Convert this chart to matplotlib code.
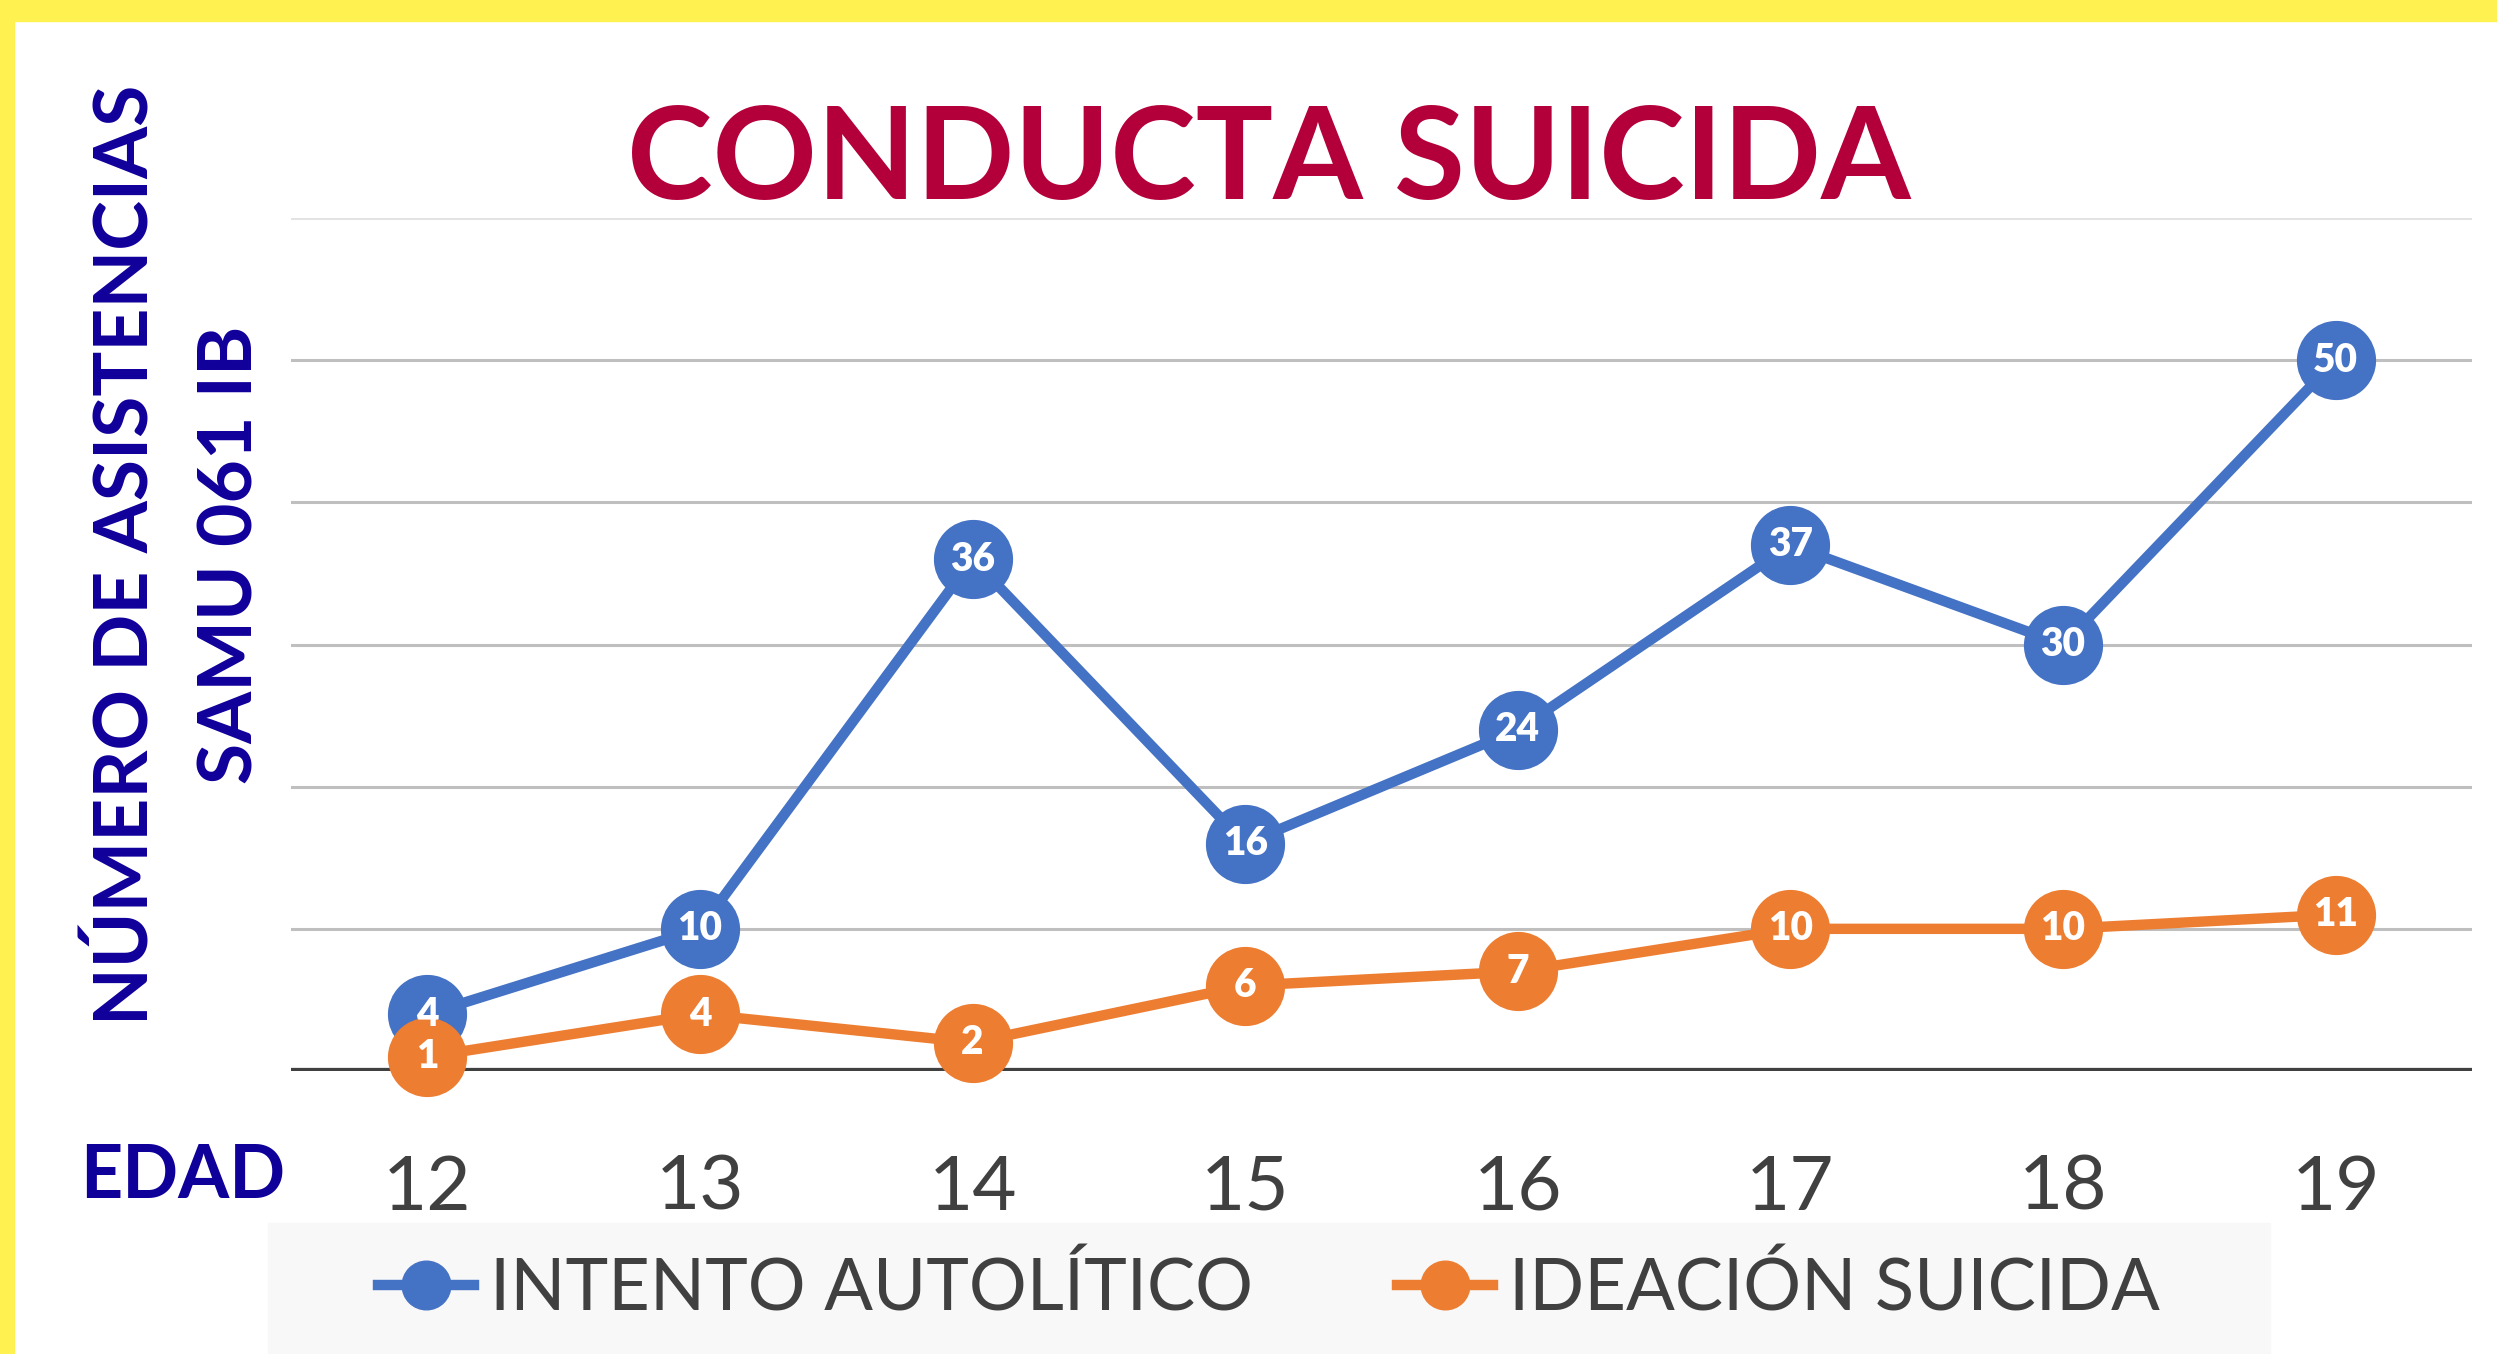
# Conducta suicida - asistencias SAMU 061 IB por edad
import matplotlib
matplotlib.use('Agg')
import matplotlib.pyplot as plt
from matplotlib.lines import Line2D
from matplotlib.patches import Rectangle

# data
edades = ['12', '13', '14', '15', '16', '17', '18', '19']
intento = [4, 10, 36, 16, 24, 37, 30, 50]
ideacion = [1, 4, 2, 6, 7, 10, 10, 11]
series_names = ['INTENTO AUTOLÍTICO', 'IDEACIÓN SUICIDA']

BLUE = '#4472C4'
ORANGE = '#ED7D31'
NAVY = '#10009A'
CRIMSON = '#B4003A'
GREY_TXT = '#404040'
FONT = ['Lato', 'DejaVu Sans']

W, H = 2497, 1354
fig = plt.figure(figsize=(W / 100, H / 100), dpi=100)
fig.patch.set_facecolor('white')

# yellow frame (top + left)
fig.add_artist(Rectangle((0, 1 - 21 / H), 1, 21 / H, transform=fig.transFigure,
                         color='#FFF150', zorder=0))
fig.add_artist(Rectangle((0, 0), 14 / W, 1, transform=fig.transFigure,
                         color='#FFF150', zorder=0))

# plot area
left, right = 291 / W, 2472 / W
bottom, top = 1 - 1071 / H, 1 - 218 / H
ax = fig.add_axes([left, bottom, right - left, top - bottom])
ax.set_xlim(-0.5, len(edades) - 0.5)
ax.set_ylim(0, 60)
for s in ax.spines.values():
    s.set_visible(False)
ax.set_xticks([])
ax.set_yticks([])

for v in range(10, 61, 10):
    ax.axhline(v, color='#E3E3E3' if v == 60 else '#BFBFBF', lw=2.2, zorder=1)
ax.axhline(0, color=GREY_TXT, lw=4.5, zorder=2)

x = list(range(len(edades)))
ax.plot(x, intento, color=BLUE, lw=7.5, marker='o', ms=56, mec=BLUE,
        clip_on=False, zorder=3, solid_capstyle='round')
ax.plot(x, ideacion, color=ORANGE, lw=7.5, marker='o', ms=56, mec=ORANGE,
        clip_on=False, zorder=4, solid_capstyle='round')

for xi, v in zip(x, intento):
    ax.text(xi, v, str(v), ha='center', va='center', color='white',
            fontsize=28, fontweight='heavy', family=FONT, zorder=6)
for xi, v in zip(x, ideacion):
    ax.text(xi, v, str(v), ha='center', va='center', color='white',
            fontsize=28, fontweight='heavy', family=FONT, zorder=6)

# category labels
ylab = -(1188 - 1071) / (1071 - 218)
for xi, lab in zip(x, edades):
    ax.text(xi, ylab, lab, transform=ax.get_xaxis_transform(), ha='center',
            va='center', color=GREY_TXT, fontsize=55, family=FONT)

# title and axis labels
fig.text(1269 / W, 1 - 162 / H, 'CONDUCTA SUICIDA', ha='center', va='center',
         color=CRIMSON, fontsize=93, fontweight='bold', family=FONT)
fig.text(127 / W, 1 - 555 / H, 'NÚMERO DE ASISTENCIAS', ha='center', va='center',
         rotation=90, color=NAVY, fontsize=54, fontweight='bold', family=FONT)
fig.text(231 / W, 1 - 555 / H, 'SAMU 061 IB', ha='center', va='center',
         rotation=90, color=NAVY, fontsize=54, fontweight='bold', family=FONT)
fig.text(183 / W, 1 - 1176 / H, 'EDAD', ha='center', va='center',
         color=NAVY, fontsize=53, fontweight='bold', family=FONT)

# legend box
fig.add_artist(Rectangle((268 / W, 0), (2270 - 268) / W, (H - 1223) / H,
                         transform=fig.transFigure, color='#F8F8F8', zorder=0))
handles = [Line2D([], [], color=BLUE, lw=7.5, marker='o', ms=35),
           Line2D([], [], color=ORANGE, lw=7.5, marker='o', ms=35)]
fig.legend(handles, series_names, loc='center', ncol=2, frameon=False,
           bbox_to_anchor=(1269 / W, 1 - 1289 / H),
           prop={'family': FONT, 'size': 52}, labelcolor=GREY_TXT,
           handlelength=1.33, handletextpad=0.22, columnspacing=2.0)

fig.savefig('out.png', dpi=100)
